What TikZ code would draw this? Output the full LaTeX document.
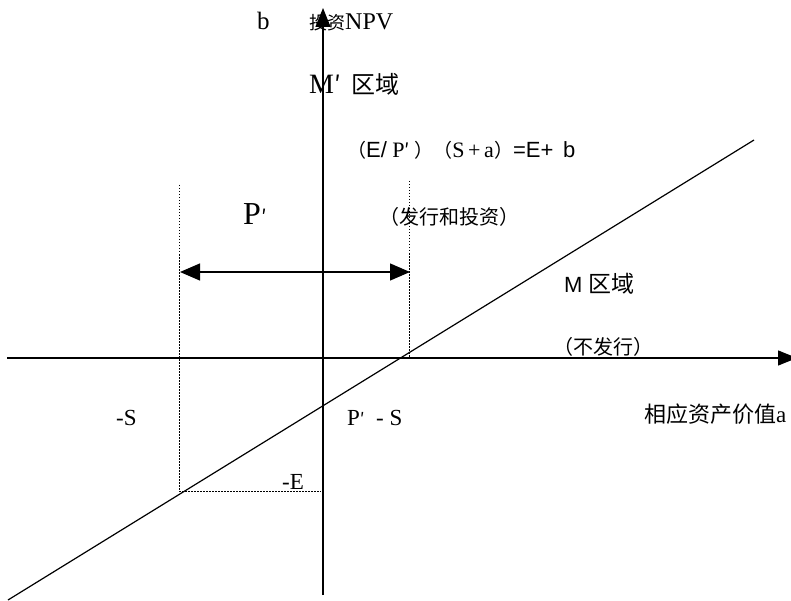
\documentclass[tikz,border=0pt]{standalone}
\usepackage{fontspec}
\setmainfont{Liberation Serif}
\newfontfamily\cjk{Noto Sans CJK SC}
\newfontfamily\sansf{Liberation Sans}
\usetikzlibrary{arrows.meta}
\begin{document}
\begin{tikzpicture}[x=1pt,y=-1pt,
  axis/.style={line width=1.2pt,-{Triangle[width=15pt,length=19pt]}},
  dimarrow/.style={line width=1.2pt,{Triangle[width=17pt,length=20pt]}-{Triangle[width=17pt,length=20pt]}},
  guide/.style={line width=1pt,dash pattern=on 1.5pt off 1.5pt},
  lbl/.style={inner sep=0pt,anchor=base west},
  fs/.style={font=\fontsize{#1}{#1}\selectfont}]
\useasboundingbox (0,0) rectangle (791,601);
\fill[white] (0,0) rectangle (791,601);
% axes
\coordinate (ybot) at (323,595);
\coordinate (ytop) at (323,8);
\coordinate (xl) at (7,358);
\coordinate (xr) at (797,358);
\draw[axis] (ybot) -- (ytop);
\draw[axis] (xl) -- (xr);
% diagonal line
\coordinate (d1) at (8,600);
\coordinate (d2) at (754,140);
\draw[line width=1.2pt] (d1) -- (d2);
% guides
\coordinate (gl1) at (179,185);
\coordinate (gl2) at (179,491);
\coordinate (gr1) at (409,181);
\coordinate (gr2) at (409,358);
\coordinate (ge) at (321,491);
\draw[guide] (gl1) -- (gl2) -- (ge);
\draw[guide] (gr1) -- (gr2);
% double arrow
\coordinate (al) at (180,272);
\coordinate (ar) at (410,272);
\draw[dimarrow] (al) -- (ar);
% labels
\node[lbl,fs=25] (b) at (257,30) {b};
\node[lbl,fs=24] (npv) at (309,30) {{\cjk\fontsize{18}{18}\selectfont 投资}NPV};
\node[lbl,fs=28] (mp) at (309,94) {M{\cjk\fontsize{24}{24}\selectfont ′\ \ 区域}};
\node[lbl,fs=22] (formula) at (347,158) {{\cjk\fontsize{19}{19}\selectfont （}{\sansf E/} P{\cjk\fontsize{19}{19}\selectfont ′\ ）（}S\,+\,a{\cjk\fontsize{19}{19}\selectfont ）}{\sansf =E+\ \,b}};
\node[lbl,fs=32] (p) at (243,225) {P{\cjk\fontsize{20}{20}\selectfont ′}};
\node[lbl,fs=20] (fx) at (379,225) {\cjk （发行和投资）};
\node[lbl,fs=23] (m) at (564,292) {{\sansf\fontsize{22}{22}\selectfont M}\ {\cjk 区域}};
\node[lbl,fs=20] (bfx) at (553,354) {\cjk （不发行）};
\node[lbl,fs=23] (s) at (116,425) {-S};
\node[lbl,fs=23] (ps) at (347,425) {P{\cjk\fontsize{17}{17}\selectfont ′}\ \ - S};
\node[lbl,fs=23] (a) at (644,422) {{\cjk\fontsize{22}{22}\selectfont 相应资产价值}a};
\node[lbl,fs=23] (e) at (282,489) {-E};
\end{tikzpicture}
\end{document}
